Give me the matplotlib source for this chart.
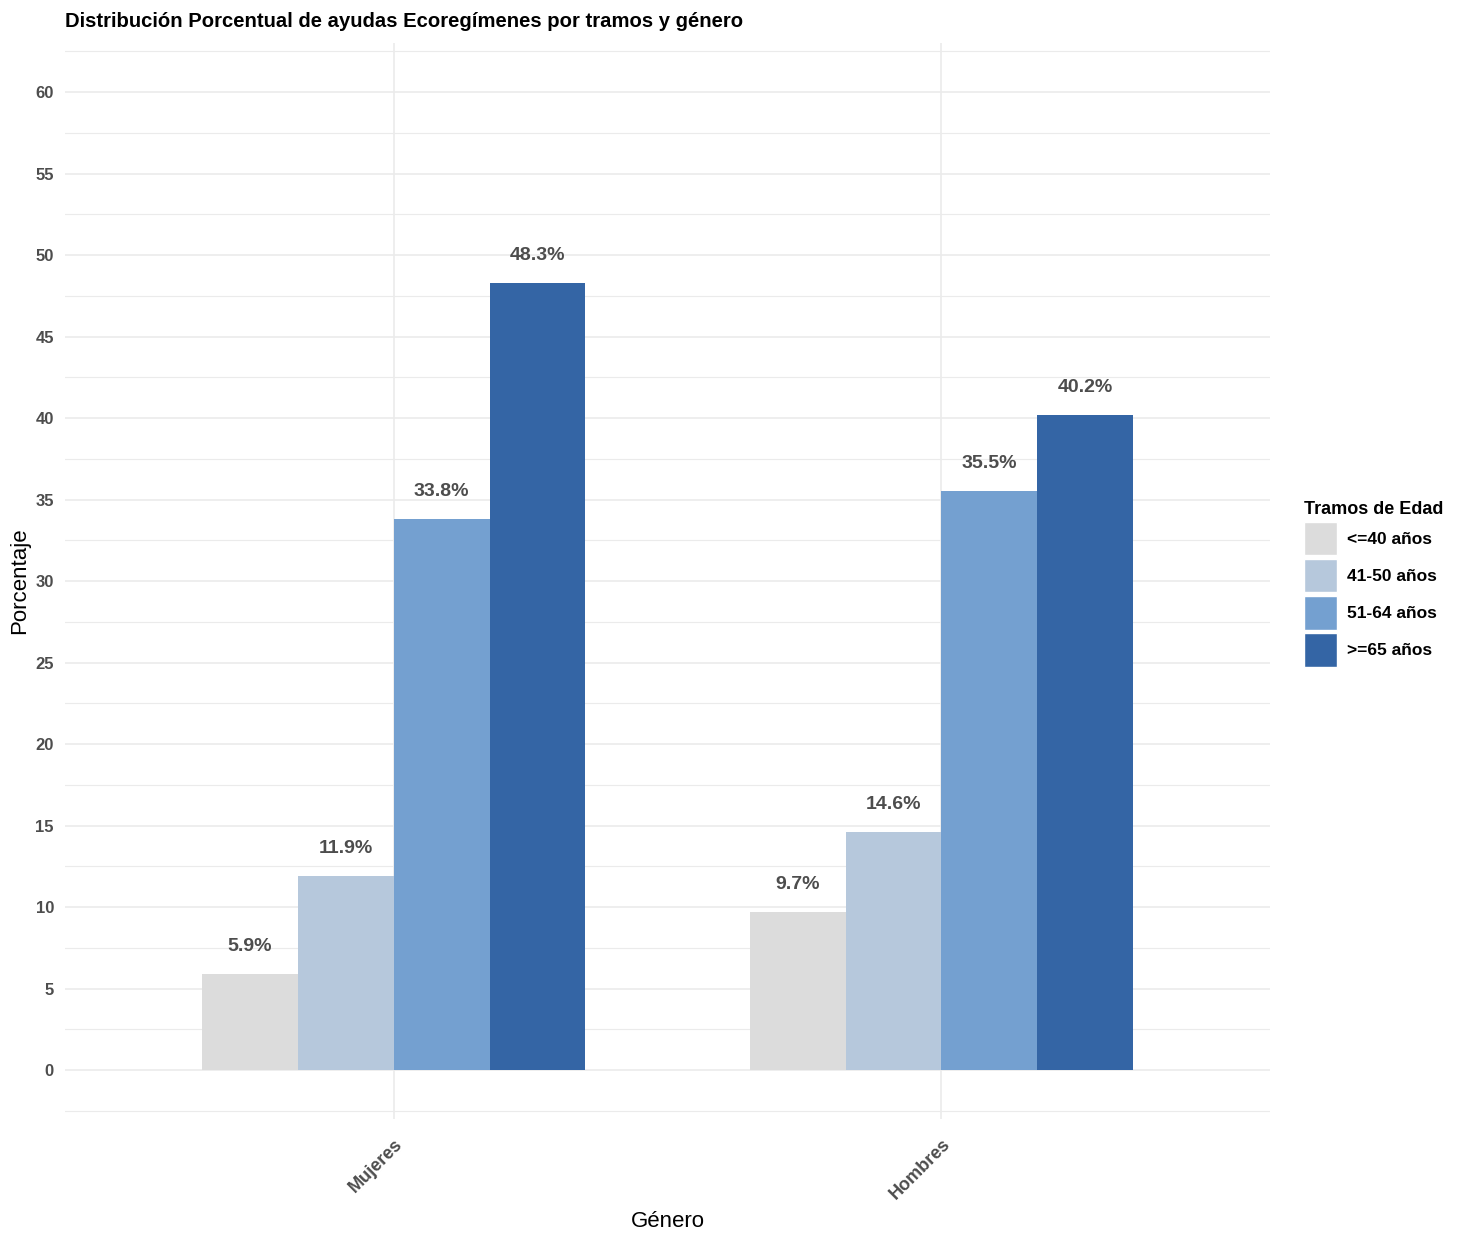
import numpy as np
import matplotlib
matplotlib.use("Agg")
from matplotlib import pyplot as plt
from matplotlib.patches import Patch

# datos
generos = ["Mujeres", "Hombres"]
tramos = ["<=40 años", "41-50 años", "51-64 años", ">=65 años"]
pct_mujeres = [5.9, 11.9, 33.8, 48.3]
pct_hombres = [9.7, 14.6, 35.5, 40.2]
yticks = list(range(0, 61, 5))

colores = ["#DCDCDC", "#B6C8DC", "#74A0D0", "#3465A5"]
gris = "#4D4D4D"

plt.rcParams['font.family'] = ['Liberation Sans', 'DejaVu Sans']

fig = plt.figure(figsize=(14.59, 12.36), dpi=100)
ax = fig.add_axes([0.0446, 0.0947, 0.8259, 0.8703])

x = np.arange(1, len(generos) + 1)
ancho = 0.175
valores = np.array([pct_mujeres, pct_hombres])  # genero x tramo

for j, tramo in enumerate(tramos):
    pos = x - 2 * ancho + (j + 0.5) * ancho
    ax.bar(pos, valores[:, j], width=ancho, color=colores[j], zorder=2)
    for px, v in zip(pos, valores[:, j]):
        ax.annotate("%.1f%%" % v, (px, v), xytext=(0, 20), textcoords="offset points",
                    ha="center", va="center", fontsize=14, fontweight="bold", color=gris)

ax.set_xlim(0.4, 2.6)
ax.set_ylim(-3, 63)
ax.set_yticks(yticks)
ax.set_yticks(np.arange(-2.5, 63, 5), minor=True)
ax.set_xticks(x)
ax.set_xticklabels(generos, rotation=45, ha="right", va="top", rotation_mode="anchor",
                   fontsize=13, fontweight="bold", color=gris)
for lbl in ax.get_yticklabels():
    lbl.set_fontweight("bold")
ax.tick_params(axis="y", labelsize=12, labelcolor=gris, length=0, pad=8)
ax.tick_params(axis="x", length=0, pad=12)
ax.tick_params(which="minor", length=0)

ax.grid(True, which="major", color="#EBEBEB", lw=1.2, zorder=0)
ax.grid(True, which="minor", axis="y", color="#EBEBEB", lw=0.8, zorder=0)
ax.set_axisbelow(True)
for s in ax.spines.values():
    s.set_visible(False)

ax.set_xlabel("Género", fontsize=16, color="black", labelpad=6)
ax.set_ylabel("Porcentaje", fontsize=16, color="black", labelpad=4)
ax.set_title("Distribución Porcentual de ayudas Ecoregímenes por tramos y género",
             loc="left", fontsize=14.6, fontweight="bold", pad=12)

handles = [Patch(facecolor=c, edgecolor="white") for c in colores]
leg = fig.legend(handles, tramos, title="Tramos de Edad", loc="upper left",
                 bbox_to_anchor=(0.889, 0.600), frameon=False,
                 prop={"weight": "bold", "size": 12.5}, handlelength=1.9, handleheight=2.6,
                 handletextpad=0.55, labelspacing=0.2, borderaxespad=0)
leg.get_title().set_fontweight("bold")
leg.get_title().set_fontsize(13)
leg._legend_box.align = "left"

plt.savefig("out.png", dpi=100)
